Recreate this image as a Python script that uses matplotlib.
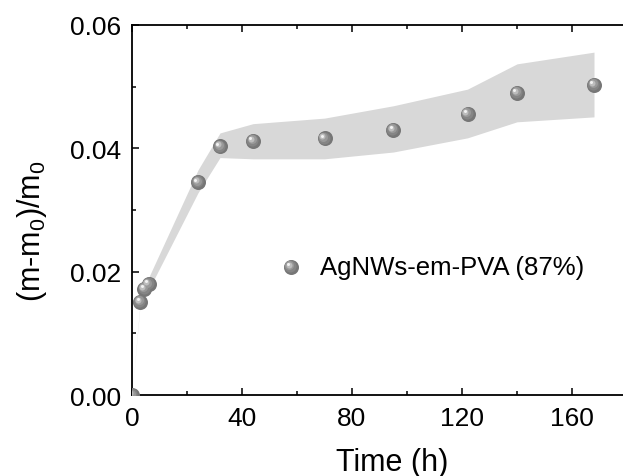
import matplotlib
matplotlib.use("Agg")
import matplotlib.pyplot as plt
from matplotlib.transforms import offset_copy
from matplotlib.ticker import MultipleLocator

# values
time_h = [0, 3, 4.5, 6, 24, 32, 44, 70, 95, 122, 140, 168]
ratio = [0.0, 0.0151, 0.0172, 0.0180, 0.0345, 0.0403, 0.0412, 0.0416, 0.0430, 0.0456, 0.0490, 0.0503]
band_upper = [0.0, 0.0153, 0.0178, 0.0190, 0.0365, 0.0425, 0.0440, 0.0449, 0.0469, 0.0496, 0.0537, 0.0556]
band_lower = [0.0, 0.0149, 0.0165, 0.0170, 0.0328, 0.0385, 0.0383, 0.0383, 0.0394, 0.0417, 0.0443, 0.0451]
label = "AgNWs-em-PVA (87%)"

plt.rcParams["font.family"] = ["Liberation Sans", "DejaVu Sans"]
plt.rcParams["mathtext.fontset"] = "custom"
plt.rcParams["mathtext.rm"] = "Liberation Sans"
plt.rcParams["mathtext.it"] = "Liberation Sans"

DPI = 100
fig = plt.figure(figsize=(6.23, 4.77), dpi=DPI)
# the original figure is cropped: the right side of the frame lies past the edge
ax = fig.add_axes([132 / 623, 1 - 396 / 477, 495 / 623, (396 - 26) / 477])

ax.fill_between(time_h, band_lower, band_upper, color="#d8d8d8", lw=0, zorder=1)

# shaded sphere: stacked circles shifted towards the upper left
layers = [  # diameter px, colour, shift px
    (15, "#767676", 0.0),
    (12, "#858585", 0.8),
    (9, "#999999", 1.5),
    (6, "#bdbdbd", 2.2),
    (3, "#f2f2f2", 2.7),
]


def sphere(x, y, transform, clip=True):
    for i, (d, c, s) in enumerate(layers):
        tr = offset_copy(transform, fig=fig, x=-s, y=s, units="dots")
        ax.scatter(x, y, s=(d * 72 / DPI) ** 2, color=c, lw=0,
                   transform=tr, clip_on=clip, zorder=3 + i)


sphere(time_h, ratio, ax.transData)

# legend, drawn by hand
sphere([0.321], [0.346], ax.transAxes, clip=False)
ax.text(0.380, 0.346, label, transform=ax.transAxes, fontsize=18.5,
        va="center", ha="left")

ax.set_xlim(0, 180)
ax.set_ylim(0, 0.06)
ax.xaxis.set_major_locator(MultipleLocator(40))
ax.xaxis.set_minor_locator(MultipleLocator(20))
ax.yaxis.set_major_locator(MultipleLocator(0.02))
ax.yaxis.set_minor_locator(MultipleLocator(0.01))
ax.yaxis.set_major_formatter(matplotlib.ticker.FormatStrFormatter("%.2f"))

ax.tick_params(which="both", direction="in", top=True, right=False,
               labelsize=19, width=1.1, pad=8)
ax.tick_params(which="major", length=5)
ax.tick_params(which="minor", length=3)
for sp in ax.spines.values():
    sp.set_linewidth(1.3)

ax.set_xlabel("Time (h)", fontsize=22)
ax.xaxis.set_label_coords(0.525, -0.14)
ax.xaxis.label.set_va("top")
ax.set_ylabel(r"(m-m$_0$)/m$_0$", fontsize=22)
ax.yaxis.set_label_coords(-0.167, 0.446)

fig.savefig("out.png", dpi=DPI)
